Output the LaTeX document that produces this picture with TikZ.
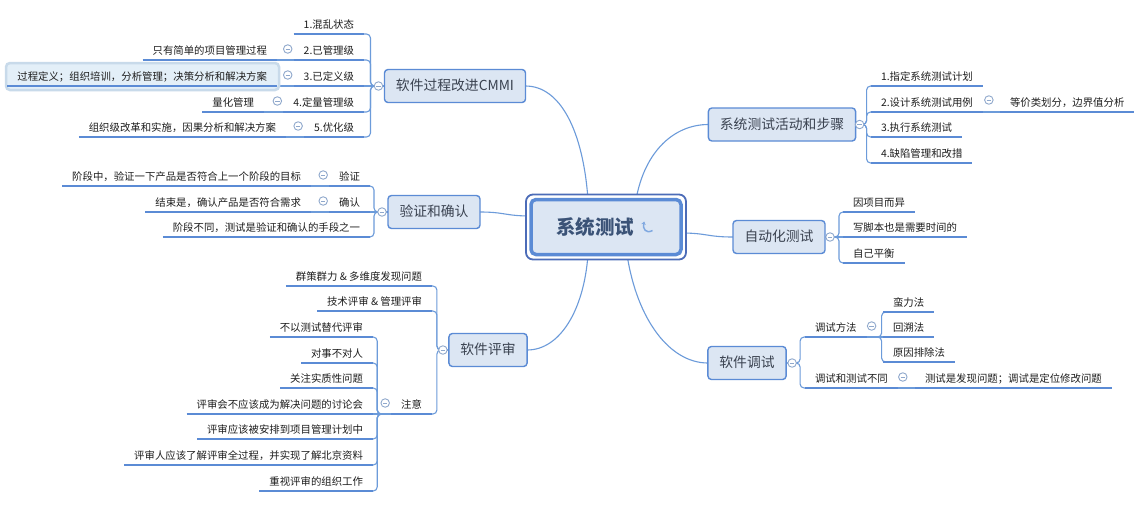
\documentclass[tikz,border=0pt]{standalone}
\usepackage{fontspec}
\setmainfont{Noto Sans CJK SC}
\usetikzlibrary{arrows.meta}
\pgfdeclarelayer{bg}
\pgfdeclarelayer{mid}
\pgfsetlayers{bg,mid,main}
\definecolor{ulc}{HTML}{5B8BD5}
\definecolor{lnc}{HTML}{6C9BDA}
\definecolor{boxfill}{HTML}{DCE6F3}
\definecolor{boxc}{HTML}{5B8BD5}
\definecolor{foldc}{HTML}{8FA8CC}
\definecolor{txt}{HTML}{1E1E1E}
\definecolor{l1txt}{HTML}{3A4250}
\definecolor{maintxt}{HTML}{3B5377}
\definecolor{mainc}{HTML}{5B8BD5}
\definecolor{mainouter}{HTML}{4C6CB8}
\definecolor{hlfill}{HTML}{E3EFF8}
\definecolor{hldraw}{HTML}{C8DAEA}
\definecolor{iconc}{HTML}{7FA8E0}
\begin{document}
\begin{tikzpicture}[x=1pt,y=-1pt,
  leaf/.style={font=\fontsize{10.4pt}{12pt}\selectfont, text=txt, inner xsep=10pt, inner ysep=4.5pt, outer sep=0pt, text height=9pt, text depth=1.5pt,
    append after command={(\tikzlastnode.south west) edge[draw=ulc, line width=2.4pt] (\tikzlastnode.south east)}},
  topic/.style={draw=boxc, line width=1.4pt, fill=boxfill, rounded corners=3.5pt, font=\fontsize{13.8pt}{16pt}\selectfont, text=l1txt, inner xsep=11.5pt, inner ysep=0pt, minimum height=33pt, outer sep=0pt, text height=11.5pt, text depth=2pt},
  conn/.style={draw=lnc, line width=1.1pt},
  brk/.style={conn, rounded corners=4pt},
  foldmark/.style={circle, draw=foldc, fill=white, line width=0.9pt, minimum size=8.5pt, inner sep=0pt,
    path picture={\draw[foldc, line width=0.9pt] ([xshift=-2.2pt]path picture bounding box.center) -- ([xshift=2.2pt]path picture bounding box.center);}},
  hl/.style={fill=hlfill, draw=hldraw, line width=2.5pt, rounded corners=4pt}
]
\useasboundingbox (0,0) rectangle (1134,507);
\begin{pgfonlayer}{bg}
\fill[white] (0,0) rectangle (1134,507);
\end{pgfonlayer}

% central topic
\node[draw=mainc, line width=3.5pt, fill=boxfill, rounded corners=5pt, minimum width=150pt, minimum height=55pt, inner sep=0pt, outer sep=0pt, font=\fontsize{19.5pt}{22pt}\selectfont\bfseries, text=maintxt] (main) at (606,227) {\makebox[100pt][l]{系统测试}};
\draw[iconc, line width=1.5pt, -{Stealth[length=3.2pt,width=4.5pt]}] (652.5,230.5) .. controls (646,234) and (642.5,229) .. (644.2,221.5);

% first level
\node[topic] (cmmi) at (455,86) {软件过程改进CMMI};
\node[topic] (vc) at (434,212) {验证和确认};
\node[topic] (rev) at (488,350) {软件评审};
\node[topic] (sys) at (782,124.5) {系统测试活动和步骤};
\node[topic] (auto) at (779,237) {自动化测试};
\node[topic] (dbg) at (747,363) {软件调试};

% CMMI branch
\node[leaf, anchor=south east] (c1) at (364,34) {1.混乱状态};
\node[leaf, anchor=south east] (c2) at (364,60) {2.已管理级};
\node[leaf, anchor=south east] (c3) at (364,86) {3.已定义级};
\node[leaf, anchor=south east] (c4) at (364,112) {4.定量管理级};
\node[leaf, anchor=south east] (c5) at (364,137) {5.优化级};
\node[leaf, anchor=south east] (c2a) at (277,60) {只有简单的项目管理过程};
\begin{pgfonlayer}{mid}
\draw[hl] (6,63) rectangle (279,90);
\end{pgfonlayer}
\node[leaf, anchor=south east] (c3a) at (277,86) {过程定义；组织培训，分析管理；决策分析和解决方案};
\node[leaf, anchor=south east] (c4a) at (264,112) {量化管理};
\node[leaf, anchor=south east] (c5a) at (286,137) {组织级改革和实施，因果分析和解决方案};

% verification branch
\node[leaf, anchor=south east] (v1) at (370,186) {验证};
\node[leaf, anchor=south east] (v2) at (370,212) {确认};
\node[leaf, anchor=south east] (v3) at (370,237) {阶段不同，测试是验证和确认的手段之一};
\node[leaf, anchor=south east] (v1a) at (311,186) {阶段中，验证一下产品是否符合上一个阶段的目标};
\node[leaf, anchor=south east] (v2a) at (311,212) {结束是，确认产品是否符合需求};

% review branch
\node[leaf, anchor=south east] (r1) at (432,286) {群策群力 \& 多维度发现问题};
\node[leaf, anchor=south east] (r2) at (432,311) {技术评审 \& 管理评审};
\node[leaf, anchor=south east] (r3) at (432,414) {注意};
\node[leaf, anchor=south east] (r3a) at (373,337) {不以测试替代评审};
\node[leaf, anchor=south east] (r3b) at (373,363) {对事不对人};
\node[leaf, anchor=south east] (r3c) at (373,388) {关注实质性问题};
\node[leaf, anchor=south east] (r3d) at (373,414) {评审会不应该成为解决问题的讨论会};
\node[leaf, anchor=south east] (r3e) at (373,439) {评审应该被安排到项目管理计划中};
\node[leaf, anchor=south east] (r3f) at (373,465) {评审人应该了解评审全过程，并实现了解北京资料};
\node[leaf, anchor=south east] (r3g) at (373,491) {重视评审的组织工作};

% system test steps branch
\node[leaf, anchor=south west] (s1) at (871,86) {1.指定系统测试计划};
\node[leaf, anchor=south west] (s2) at (871,112) {2.设计系统测试用例};
\node[leaf, anchor=south west] (s3) at (871,137) {3.执行系统测试};
\node[leaf, anchor=south west] (s4) at (871,163) {4.缺陷管理和改措};
\node[leaf, anchor=south west] (s2a) at (1000,112) {等价类划分，边界值分析};

% automation branch
\node[leaf, anchor=south west] (a1) at (843,212) {因项目而异};
\node[leaf, anchor=south west] (a2) at (843,237) {写脚本也是需要时间的};
\node[leaf, anchor=south west] (a3) at (843,263) {自己平衡};

% debugging branch
\node[leaf, anchor=south west] (d1) at (805,337) {调试方法};
\node[leaf, anchor=south west] (d2) at (805,388) {调试和测试不同};
\node[leaf, anchor=south west] (d1a) at (883,312) {蛮力法};
\node[leaf, anchor=south west] (d1b) at (883,337) {回溯法};
\node[leaf, anchor=south west] (d1c) at (883,362) {原因排除法};
\node[leaf, anchor=south west] (d2a) at (915,388) {测试是发现问题；调试是定位修改问题};

\begin{pgfonlayer}{mid}
\draw[draw=mainouter, fill=white, line width=1.8pt, rounded corners=7pt] ([shift={(-5,-5)}]main.north west) rectangle ([shift={(5,5)}]main.south east);
\end{pgfonlayer}

\begin{pgfonlayer}{bg}
% center connectors
\draw[conn] ([xshift=-18pt]main.north) .. controls (583,130) and (560,86) .. (cmmi.east);
\draw[conn] ([yshift=11pt]main.west) .. controls (505,216) and (505,212) .. (vc.east);
\draw[conn] ([xshift=-18pt]main.south) .. controls (584,310) and (560,350) .. (rev.east);
\draw[conn] ([xshift=30pt]main.north) .. controls (645,150) and (675,124.5) .. (sys.west);
\draw[conn] ([yshift=-6pt]main.east) .. controls (707,233) and (707,237) .. (auto.west);
\draw[conn] ([xshift=21pt]main.south) .. controls (637,320) and (670,363) .. (dbg.west);
% CMMI brackets
\draw[brk] (cmmi.west) -- ++(-14,0) |- (c1.south east);
\draw[brk] (cmmi.west) -- ++(-14,0) |- (c2.south east);
\draw[conn] (cmmi.west) -- (c3.south east);
\draw[brk] (cmmi.west) -- ++(-14,0) |- (c4.south east);
\draw[brk] (cmmi.west) -- ++(-14,0) |- (c5.south east);
\draw[conn] (c2.south west) -- (c2a.south east);
\draw[conn] (c3.south west) -- (c3a.south east);
\draw[conn] (c4.south west) -- (c4a.south east);
\draw[conn] (c5.south west) -- (c5a.south east);
% verification
\draw[brk] (vc.west) -- ++(-14,0) |- (v1.south east);
\draw[conn] (vc.west) -- (v2.south east);
\draw[brk] (vc.west) -- ++(-14,0) |- (v3.south east);
\draw[conn] (v1.south west) -- (v1a.south east);
\draw[conn] (v2.south west) -- (v2a.south east);
% review
\draw[brk] (rev.west) -- ++(-12,0) |- (r1.south east);
\draw[brk] (rev.west) -- ++(-12,0) |- (r2.south east);
\draw[brk] (rev.west) -- ++(-12,0) |- (r3.south east);
\draw[brk] (r3.south west) -- ++(-14,0) |- (r3a.south east);
\draw[brk] (r3.south west) -- ++(-14,0) |- (r3b.south east);
\draw[brk] (r3.south west) -- ++(-14,0) |- (r3c.south east);
\draw[conn] (r3.south west) -- (r3d.south east);
\draw[brk] (r3.south west) -- ++(-14,0) |- (r3e.south east);
\draw[brk] (r3.south west) -- ++(-14,0) |- (r3f.south east);
\draw[brk] (r3.south west) -- ++(-14,0) |- (r3g.south east);
% system steps
\draw[brk] (sys.east) -- ++(11,0) |- (s1.south west);
\draw[brk] (sys.east) -- ++(11,0) |- (s2.south west);
\draw[brk] (sys.east) -- ++(11,0) |- (s3.south west);
\draw[brk] (sys.east) -- ++(11,0) |- (s4.south west);
\draw[conn] (s2.south east) -- (s2a.south west);
% automation
\draw[brk] (auto.east) -- ++(14,0) |- (a1.south west);
\draw[conn] (auto.east) -- (a2.south west);
\draw[brk] (auto.east) -- ++(14,0) |- (a3.south west);
% debugging
\draw[brk] (dbg.east) -- ++(14,0) |- (d1.south west);
\draw[brk] (dbg.east) -- ++(14,0) |- (d2.south west);
\draw[brk] (d1.south east) -- ++(15,0) |- (d1a.south west);
\draw[conn] (d1.south east) -- (d1b.south west);
\draw[brk] (d1.south east) -- ++(15,0) |- (d1c.south west);
\draw[conn] (d2.south east) -- (d2a.south west);
\end{pgfonlayer}

% fold markers
\node[foldmark] (fcmmi) at ([xshift=-6pt]cmmi.west) {};
\node[foldmark] (fvc) at ([xshift=-6pt]vc.west) {};
\node[foldmark] (frev) at ([xshift=-6pt]rev.west) {};
\node[foldmark] (fsys) at ([xshift=4pt]sys.east) {};
\node[foldmark] (fauto) at ([xshift=5pt]auto.east) {};
\node[foldmark] (fdbg) at ([xshift=6pt]dbg.east) {};
\node[foldmark] (fc2) at ([shift={(-6,-11)}]c2.south west) {};
\node[foldmark] (fc3) at ([shift={(-6,-11)}]c3.south west) {};
\node[foldmark] (fc4) at ([shift={(-6,-11)}]c4.south west) {};
\node[foldmark] (fc5) at ([shift={(-6,-11)}]c5.south west) {};
\node[foldmark] (fv1) at ([shift={(-6,-11)}]v1.south west) {};
\node[foldmark] (fv2) at ([shift={(-6,-11)}]v2.south west) {};
\node[foldmark] (fr3) at ([shift={(-6,-11)}]r3.south west) {};
\node[foldmark] (fs2) at ([shift={(6,-12)}]s2.south east) {};
\node[foldmark] (fd1) at ([shift={(5,-11)}]d1.south east) {};
\node[foldmark] (fd2) at ([shift={(5,-11)}]d2.south east) {};
\end{tikzpicture}
\end{document}
